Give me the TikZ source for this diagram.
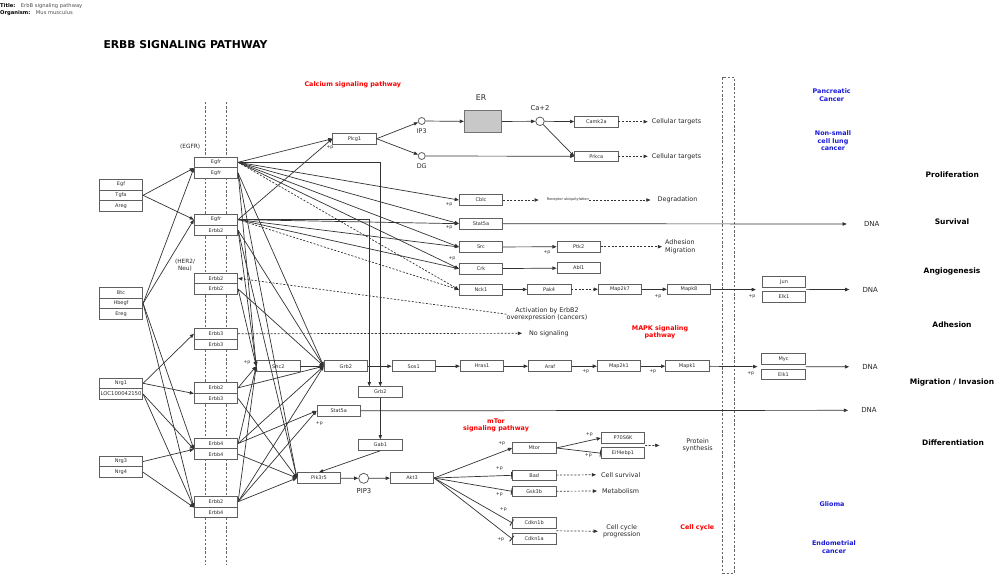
\documentclass[tikz,border=0pt]{standalone}
\usepackage{fontspec}
\setmainfont{DejaVu Sans}
\usetikzlibrary{arrows.meta,calc}
\definecolor{edgec}{RGB}{50,50,50}
\definecolor{boxline}{RGB}{95,95,95}
\definecolor{boxtext}{RGB}{45,45,45}
\definecolor{erfill}{RGB}{200,200,200}
\definecolor{pwred}{RGB}{250,0,0}
\definecolor{pwblue}{RGB}{25,25,215}
\begin{document}
\begin{tikzpicture}[x=1pt,y=-1pt,
  gene/.style={draw=boxline, fill=white, line width=0.8pt, minimum width=43.4pt,
    minimum height=10.7pt, inner sep=0pt, text=boxtext, font=\fontsize{5}{5.5}\selectfont},
  met/.style={circle, draw=boxline, fill=white, line width=0.8pt, inner sep=0pt},
  lbl/.style={inner sep=0pt, text=black!85, align=center, font=\fontsize{6.4}{7.4}\selectfont},
  small/.style={inner sep=0pt, text=black!85, font=\fontsize{3.6}{4}\selectfont},
  pp/.style={inner sep=0pt, text=black!85, font=\fontsize{4.6}{5}\selectfont},
  redlbl/.style={inner sep=0pt, text=pwred, align=center, font=\bfseries\fontsize{6.4}{7.3}\selectfont},
  bluelbl/.style={inner sep=0pt, text=pwblue, align=center, font=\bfseries\fontsize{6.4}{7.5}\selectfont},
  sidelbl/.style={inner sep=0pt, text=black, font=\bfseries\fontsize{7.5}{9}\selectfont},
  conn/.style={draw=edgec, line width=0.7pt},
  act/.style={conn, -{Triangle[length=4.2pt,width=3.4pt]}},
  dact/.style={act, dash pattern=on 2pt off 1.6pt},
  inh/.style={conn, -{Bar[width=7pt,line width=0.9pt]}},
  guide/.style={draw=black!60, line width=0.6pt, dash pattern=on 2.4pt off 1.8pt}
]
\useasboundingbox (0,0) rectangle (1000,581);

% header
\node[anchor=west, inner sep=0pt, font=\fontsize{5.2}{6}\selectfont] (hdr1) at (0,5.7)
  {\textbf{Title:}\hspace{5.5pt}\textcolor{black!70}{ErbB signaling pathway}};
\node[anchor=west, inner sep=0pt, font=\fontsize{5.2}{6}\selectfont] (hdr2) at (0,13.3)
  {\textbf{Organism:}\hspace{5.5pt}\textcolor{black!70}{Mus musculus}};
\node[anchor=west, inner sep=0pt, font=\bfseries\fontsize{10.8}{12}\selectfont] (ttl) at (103.3,44.5)
  {ERBB SIGNALING PATHWAY};

% membrane guides and the cell-boundary column
\draw[guide] (205.7,102) -- (205.7,565);
\draw[guide] (226.7,102) -- (226.7,565);
\draw[guide] (722.7,77.3) rectangle (734.3,573.3);

% ligands
\node[gene] (egf)   at (121,184.6) {Egf};
\node[gene] (tgfa)  at (121,195.3) {Tgfa};
\node[gene] (areg)  at (121,206.0) {Areg};
\node[gene] (btc)   at (121,292.6) {Btc};
\node[gene] (hbegf) at (121,303.3) {Hbegf};
\node[gene] (ereg)  at (121,314.0) {Ereg};
\node[gene] (nrg1)  at (121,383.3) {Nrg1};
\node[gene, font=\fontsize{5.3}{6}\selectfont] (loc) at (121,394.0) {LOC100042150};
\node[gene] (nrg3)  at (121,461.5) {Nrg3};
\node[gene] (nrg4)  at (121,472.2) {Nrg4};

% receptor dimers
\node[gene] (r1a) at (216,162.3) {Egfr};
\node[gene] (r1b) at (216,173.0) {Egfr};
\node[gene] (r2a) at (216,219.6) {Egfr};
\node[gene] (r2b) at (216,230.3) {Erbb2};
\node[gene] (r3a) at (216,278.3) {Erbb2};
\node[gene] (r3b) at (216,289.0) {Erbb2};
\node[gene] (r4a) at (216,333.7) {Erbb3};
\node[gene] (r4b) at (216,344.4) {Erbb3};
\node[gene] (r5a) at (216,387.8) {Erbb2};
\node[gene] (r5b) at (216,398.5) {Erbb3};
\node[gene] (r6a) at (216,443.5) {Erbb4};
\node[gene] (r6b) at (216,454.2) {Erbb4};
\node[gene] (r7a) at (216,501.7) {Erbb2};
\node[gene] (r7b) at (216,512.4) {Erbb4};

\node[lbl, font=\fontsize{5.8}{6.8}\selectfont] (egfrlbl) at (190.2,147) {(EGFR)};
\node[lbl, font=\fontsize{5.8}{7}\selectfont] (herlbl) at (185,265.3) {(HER2/\\Neu)};

% calcium branch
\node[gene] (plcg1) at (354.5,138.7) {Plcg1};
\node[met, minimum size=7pt] (ip3) at (421.7,121) {};
\node[met, minimum size=7pt] (dg)  at (421.7,156) {};
\node[lbl] (ip3l) at (421.7,131.5) {IP3};
\node[lbl] (dgl)  at (421.7,166.5) {DG};
\node[draw=black!55, fill=erfill, line width=0.7pt, minimum width=37.4pt, minimum height=21.6pt, inner sep=0pt] (er) at (483,121.5) {};
\node[lbl, font=\fontsize{7.8}{9}\selectfont] (erl) at (481,98) {ER};
\node[met, minimum size=8.5pt] (ca) at (540,121.3) {};
\node[lbl, font=\fontsize{6.8}{8}\selectfont] (cal) at (540,108.3) {Ca+2};
\node[gene] (camk2a) at (596.3,121.7) {Camk2a};
\node[gene] (prkca)  at (596.3,156.3) {Prkca};
\node[lbl, anchor=west] (ct1) at (651.7,121.7) {Cellular targets};
\node[lbl, anchor=west] (ct2) at (651.7,156.3) {Cellular targets};

% upper effectors
\node[gene] (cblc)  at (481,200.0) {Cblc};
\node[gene] (stat5a) at (481,223.7) {Stat5a};
\node[gene] (src)   at (481,247.0) {Src};
\node[gene] (crk)   at (481,268.7) {Crk};
\node[gene] (nck1)  at (481,289.7) {Nck1};
\node[small, anchor=west] (ubiq) at (546.7,200) {Receptor ubiquitylation};
\node[lbl, anchor=west] (degr) at (657.5,200) {Degradation};
\node[gene] (ptk2) at (578.7,246.7) {Ptk2};
\node[gene] (abl1) at (578.7,268.0) {Abl1};
\node[lbl, anchor=west, align=left] (adh) at (665,246.7) {Adhesion\\Migration};
\node[gene] (pak4)   at (549.2,289.3) {Pak4};
\node[gene] (map2k7) at (620,289.3) {Map2k7};
\node[gene] (mapk8)  at (689,289.3) {Mapk8};
\node[gene] (jun)    at (784,282.2) {Jun};
\node[gene] (elk1a)  at (784,297.0) {Elk1};
\node[lbl] (act2) at (547,314.2) {Activation by ErbB2\\overexpression (cancers)};
\node[lbl, anchor=west] (nosig) at (529,333.3) {No signaling};

% MAPK cascade
\node[gene] (shc2)   at (278.3,366.2) {Shc2};
\node[gene] (grb2)   at (345.8,366.2) {Grb2};
\node[gene] (sos1)   at (413.7,366.2) {Sos1};
\node[gene] (hras1)  at (482,366.2) {Hras1};
\node[gene] (araf)   at (550,366.2) {Araf};
\node[gene] (map2k1) at (619,366.2) {Map2k1};
\node[gene] (mapk1)  at (687.3,366.2) {Mapk1};
\node[gene] (myc)    at (783.5,358.8) {Myc};
\node[gene] (elk1b)  at (783.5,374.5) {Elk1};

% PI3K / Akt branch
\node[gene] (grb2b)  at (380.3,392.0) {Grb2};
\node[gene] (stat5b) at (338.7,410.8) {Stat5a};
\node[gene] (gab1)   at (380.3,445.0) {Gab1};
\node[gene] (pik3r5) at (319,478.0) {Pik3r5};
\node[met, minimum size=10pt] (pip3) at (363.7,478.3) {};
\node[lbl, font=\fontsize{6.8}{8}\selectfont] (pip3l) at (364,491) {PIP3};
\node[gene] (akt3)   at (412,478.0) {Akt3};
\node[gene] (mtor)   at (534.2,448.0) {Mtor};
\node[gene] (p70)    at (623,438.0) {P70S6K};
\node[gene] (eif)    at (623,453.2) {Eif4ebp1};
\node[gene] (bad)    at (534.2,475.3) {Bad};
\node[gene] (gsk3b)  at (534.2,491.3) {Gsk3b};
\node[gene] (cdkn1b) at (534.2,522.8) {Cdkn1b};
\node[gene] (cdkn1a) at (534.2,538.8) {Cdkn1a};
\node[lbl] (prot) at (697.7,445) {Protein\\synthesis};
\node[lbl, anchor=west] (surv) at (601,474.7) {Cell survival};
\node[lbl, anchor=west] (metab) at (602,491) {Metabolism};
\node[lbl] (ccp) at (621.7,531.3) {Cell cycle\\progression};

% DNA targets
\node[lbl, font=\fontsize{7}{8}\selectfont] (dna1) at (871.7,224) {DNA};
\node[lbl, font=\fontsize{7}{8}\selectfont] (dna2) at (870.3,289.5) {DNA};
\node[lbl, font=\fontsize{7}{8}\selectfont] (dna3) at (870,366.8) {DNA};
\node[lbl, font=\fontsize{7}{8}\selectfont] (dna4) at (869,410.3) {DNA};

% pathway links and outcomes
\node[redlbl] (calc) at (352.8,84.7) {Calcium signaling pathway};
\node[redlbl] (mapkp) at (660,332.5) {MAPK signaling\\pathway};
\node[redlbl] (mtorp) at (496,425) {mTor\\signaling pathway};
\node[redlbl] (ccyc) at (697.3,527.7) {Cell cycle};
\node[bluelbl] (panc) at (831.7,95.3) {Pancreatic\\Cancer};
\node[bluelbl] (nsclc) at (833,141) {Non-small\\cell lung\\cancer};
\node[bluelbl] (glio) at (832,504.3) {Glioma};
\node[bluelbl] (endo) at (834,547) {Endometrial\\cancer};
\node[sidelbl] (s1) at (952.3,174.3) {Proliferation};
\node[sidelbl] (s2) at (952,221.3) {Survival};
\node[sidelbl] (s3) at (952,271.7) {Angiogenesis};
\node[sidelbl] (s4) at (952,325) {Adhesion};
\node[sidelbl] (s5) at (952,382.3) {Migration / Invasion};
\node[sidelbl] (s6) at (953,442.7) {Differentiation};

% phosphorylation marks
\node[pp] at (330,148) {+p};
\node[pp] at (449,204.5) {+p};
\node[pp] at (449,228) {+p};
\node[pp] at (452,259) {+p};
\node[pp] at (547,252.5) {+p};
\node[pp] at (658,296.5) {+p};
\node[pp] at (752,297) {+p};
\node[pp] at (247,363) {+p};
\node[pp] at (585.7,371.7) {+p};
\node[pp] at (652.7,371.7) {+p};
\node[pp] at (750.7,374) {+p};
\node[pp] at (319.3,424) {+p};
\node[pp] at (501.7,443.3) {+p};
\node[pp] at (589.3,434.3) {+p};
\node[pp] at (588.3,456) {+p};
\node[pp] at (499.3,468.3) {+p};
\node[pp] at (499.3,494.3) {+p};
\node[pp] at (503.3,510) {+p};
\node[pp] at (500.7,539.3) {+p};

% ligand binding
\draw[act] (tgfa.east) -- (r1a.south west);
\draw[act] (tgfa.east) -- (r2a.west);
\draw[act] (hbegf.east) -- (r1a.south west);
\draw[act] (hbegf.east) -- (r2a.west);
\draw[act] (hbegf.east) -- (r6a.south west);
\draw[act] (hbegf.east) -- (r7a.south west);
\draw[act] (nrg1.east) -- (r4a.west);
\draw[act] (nrg1.east) -- (r5a.south west);
\draw[act] (loc.east) -- (r6a.south west);
\draw[act] (loc.east) -- (r7a.south west);
\draw[act] (nrg3.east) -- (r6a.south west);
\draw[act] (nrg4.east) -- (r7a.south west);

% receptor outputs
\draw[act] (r1a.east) -- (plcg1.west);
\draw[act] (r2a.east) -- (plcg1.west);
\draw[act] (r1a.east) -| (grb2b.north);
\draw[act] (r2a.east) -| ([xshift=-11pt]grb2b.north);
\draw[act] (r1a.east) -- (cblc.west);
\draw[act] (r1a.east) -- (stat5a.west);
\draw[act] (r2a.east) -- (stat5a.west);
\draw[act] (r1a.east) -- (src.west);
\draw[act] (r2a.east) -- (src.west);
\draw[act] (r1a.east) -- (crk.west);
\draw[act] (r2a.east) -- (crk.west);
\draw[dact] (r1a.east) -- (nck1.west);
\draw[dact] (r2a.east) -- (nck1.west);
\foreach \s in {r1b,r2b,r3b,r5a,r6a,r7a}{
  \draw[act] (\s.east) -- (shc2.west);
  \draw[act] (\s.east) -- (grb2.west);
}
\foreach \s in {r1b,r2b,r5b,r6b,r7a}{
  \draw[act] (\s.east) -- (pik3r5.west);
}
\draw[act] (r6a.east) -- (stat5b.west);
\draw[act] (r7a.east) -- (stat5b.west);
\draw[dact] (act2.west) -- (r3a.east);
\draw[dact, shorten >=7pt] (r4a.east) -- (nosig.west);

% calcium signalling
\draw[act] (plcg1.east) -- (ip3);
\draw[act] (plcg1.east) -- (dg);
\draw[act] (ip3) -- (er);
\draw[act] (er) -- (ca);
\draw[act] (ca) -- (camk2a);
\draw[act] (ca) -- (prkca.west);
\draw[act] (dg) -- (prkca);
\draw[dact, shorten >=4pt] (camk2a) -- (ct1.west);
\draw[dact, shorten >=4pt] (prkca) -- (ct2.west);

% upper effectors
\draw[dact, shorten >=8pt] (cblc) -- (ubiq.west);
\draw[dact, shorten >=7pt] (ubiq.east) -- (degr.west);
\draw[act, shorten >=17pt] (stat5a) -- (dna1.west);
\draw[act] (src) -- (ptk2);
\draw[dact, shorten >=3pt] (ptk2) -- (adh.west);
\draw[act] (crk) -- (abl1);
\draw[act] (nck1) -- (pak4);
\draw[dact] (pak4) -- (map2k7);
\draw[act] (map2k7) -- (mapk8);
\draw[act, shorten >=6pt] (mapk8) -- ($(jun.south west)!.5!(elk1a.north west)$);
\draw[act, shorten >=13pt] ($(jun.south east)!.5!(elk1a.north east)$) -- (dna2.west);

% MAPK cascade
\draw[act] (shc2) -- (grb2);
\draw[act] (grb2) -- (sos1);
\draw[act] (sos1) -- (hras1);
\draw[act] (hras1) -- (araf);
\draw[act] (araf) -- (map2k1);
\draw[act] (map2k1) -- (mapk1);
\draw[act, shorten >=4pt] (mapk1) -- ($(myc.south west)!.5!(elk1b.north west)$);
\draw[act, shorten >=13pt] ($(myc.south east)!.5!(elk1b.north east)$) -- (dna3.west);

% PI3K / Akt branch
\draw[act, shorten >=13pt] (stat5b) -- (dna4.west);
\draw[act] (grb2b) -- (gab1);
\draw[act] (gab1.south) -- (pik3r5.north);
\draw[act] (pik3r5) -- (pip3);
\draw[act] (pip3) -- (akt3);
\draw[act] (akt3.east) -- (mtor.west);
\draw[inh] (akt3.east) -- (bad.west);
\draw[inh] (akt3.east) -- (gsk3b.west);
\draw[inh] (akt3.east) -- (cdkn1b.west);
\draw[inh] (akt3.east) -- (cdkn1a.west);
\draw[act] (mtor.east) -- (p70.west);
\draw[inh] (mtor.east) -- (eif.west);
\draw[dact, shorten >=23pt] ($(p70.south east)!.5!(eif.north east)$) -- (prot.west);
\draw[dact, shorten >=5pt] (bad) -- (surv.west);
\draw[dact, shorten >=5pt] (gsk3b) -- (metab.west);
\draw[dact, shorten >=5pt] ($(cdkn1b.south east)!.5!(cdkn1a.north east)$) -- (ccp.west);
\end{tikzpicture}
\end{document}
